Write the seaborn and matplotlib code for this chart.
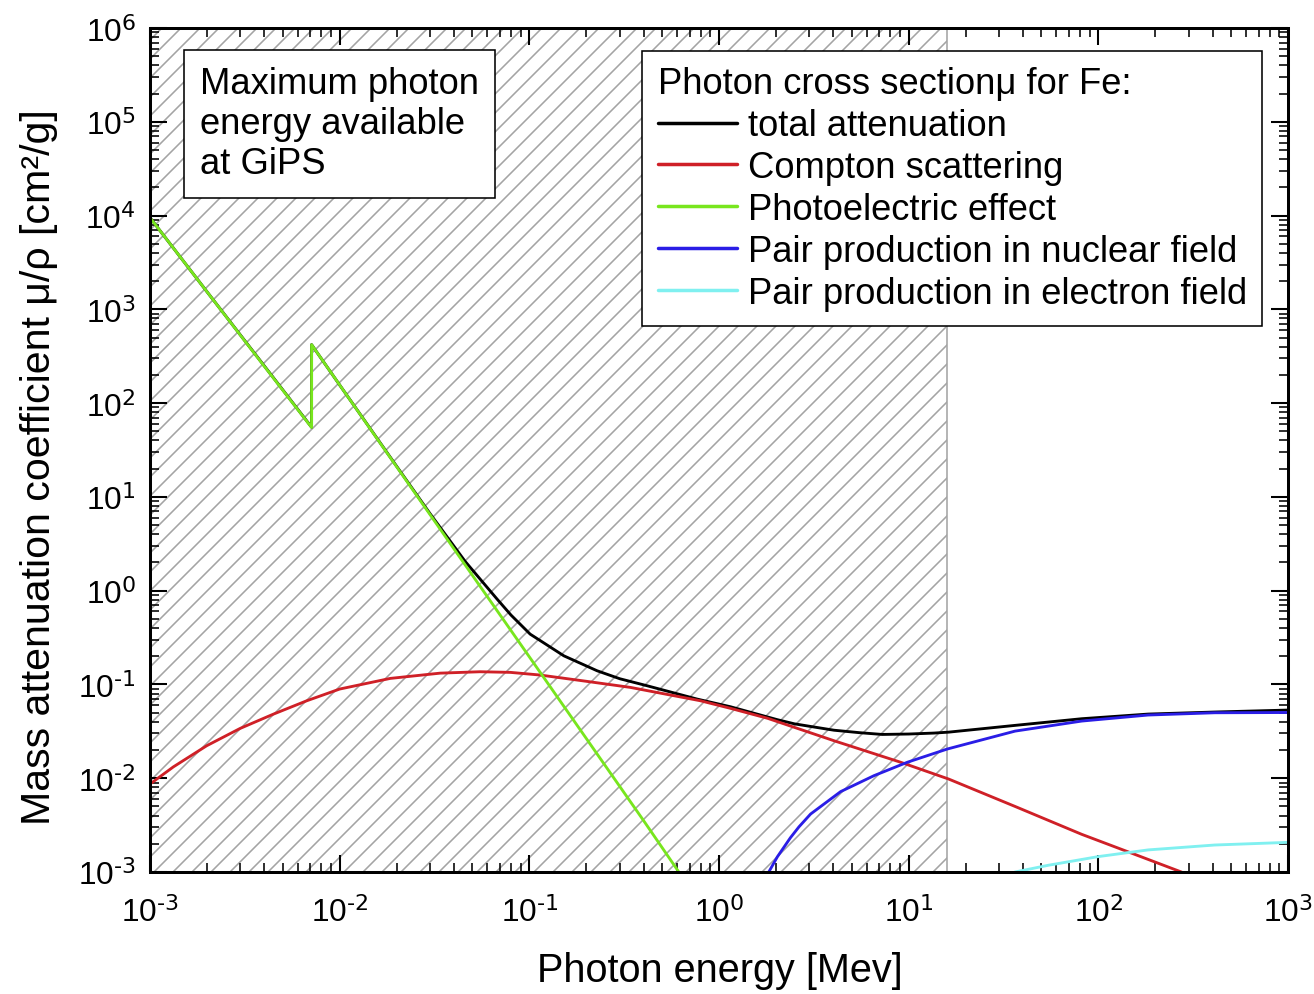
import numpy as np
import pandas as pd
import matplotlib
matplotlib.use("Agg")
import matplotlib.pyplot as plt
from matplotlib.ticker import LogLocator, NullFormatter, FuncFormatter, FixedLocator
import seaborn as sns

# ---------------- data ----------------
series_names = [
    "total attenuation",
    "Compton scattering",
    "Photoelectric effect",
    "Pair production in nuclear field",
    "Pair production in electron field",
]
series_colors = ["#000000", "#cf2027", "#78e61e", "#2a1de6", "#80f0f0"]

total_E = [0.001, 0.002, 0.004, 0.007112, 0.007112, 0.01, 0.02, 0.03, 0.0459, 0.0676,
           0.08, 0.101, 0.12, 0.152, 0.2275, 0.3, 0.418, 0.767, 1.15, 2.03, 2.5, 4.04,
           5.5, 7.24, 10.0, 13.6, 16.25, 36.4, 81.8, 183.0, 411.0, 1000.0]
total_mu = [9500, 1535, 250, 55.3, 420, 156, 21.1, 6.6, 2.05, 0.813,
            0.55, 0.344, 0.275, 0.202, 0.140, 0.115, 0.0968, 0.0698, 0.0578, 0.0421, 0.038,
            0.0325, 0.0306, 0.0293, 0.0296, 0.0303, 0.0310, 0.0366, 0.0431, 0.0483, 0.0508,
            0.0533]

compton_E = [0.001, 0.001327, 0.00199, 0.00299, 0.00448, 0.00671, 0.01, 0.0185, 0.0339,
             0.055, 0.0794, 0.114, 0.2, 0.341, 0.798, 1.15, 1.80, 4.04, 9.07, 16.25, 36.4,
             81.8, 143.6, 274.0, 400.0]
compton_mu = [0.00867, 0.0132, 0.0222, 0.034, 0.0483, 0.067, 0.0893, 0.116, 0.132,
              0.1366, 0.1345, 0.126, 0.108, 0.093, 0.067, 0.0556, 0.0436, 0.0251, 0.0148,
              0.0098, 0.0050, 0.00252, 0.00164, 0.0010, 0.00068]

photo_E = [0.001, 0.002, 0.004, 0.007112, 0.007112, 0.01, 0.02, 0.04, 0.1, 0.2, 0.4,
           0.614, 1.0]
photo_mu = [9500, 1534, 248, 55.0, 420, 156, 20.9, 2.80, 0.197, 0.0264, 0.00354,
            0.00100, 0.000245]

pairn_E = [1.75, 1.83, 2.03, 2.38, 2.64, 3.04, 4.38, 6.56, 9.84, 16.0, 36.4, 81.8,
           183.0, 411.0, 1000.0]
pairn_mu = [0.0007, 0.0010, 0.00145, 0.00232, 0.00303, 0.00415, 0.0072, 0.01064, 0.0148,
            0.0205, 0.0318, 0.0407, 0.0472, 0.0499, 0.0502]

paire_E = [30.0, 36.4, 54.5, 100.0, 183.0, 411.0, 1000.0]
paire_mu = [0.0008, 0.0010, 0.00118, 0.00146, 0.00172, 0.00194, 0.00207]

hatch_limit = 16.0  # maximum photon energy available at GiPS [MeV]

x_ticks = [1e-3, 1e-2, 1e-1, 1e0, 1e1, 1e2, 1e3]
y_ticks = [1e-3, 1e-2, 1e-1, 1e0, 1e1, 1e2, 1e3, 1e4, 1e5, 1e6]

# ---------------- build long table ----------------
frames = []
for name, E, mu in zip(series_names,
                       [total_E, compton_E, photo_E, pairn_E, paire_E],
                       [total_mu, compton_mu, photo_mu, pairn_mu, paire_mu]):
    frames.append(pd.DataFrame({"energy": E, "mu": mu, "process": name}))
df = pd.concat(frames, ignore_index=True)

# ---------------- style ----------------
sns.set_style("ticks")
plt.rcParams["font.family"] = ["Liberation Sans", "DejaVu Sans"]
plt.rcParams["mathtext.default"] = "regular"
plt.rcParams["axes.unicode_minus"] = False
plt.rcParams["hatch.linewidth"] = 1.0
for key in ["text.color", "axes.labelcolor", "xtick.color", "ytick.color", "axes.edgecolor"]:
    plt.rcParams[key] = "black"

DPI = 114
fig = plt.figure(figsize=(1314 / DPI, 995 / DPI), dpi=DPI)
L, R, B, T = 150 / 1314, 1288 / 1314, 1 - 873 / 995, 1 - 29 / 995
ax = fig.add_axes([L, B, R - L, T - B])
ax.set_xscale("log")
ax.set_yscale("log")

# hatched region
ax.axvspan(1e-3, hatch_limit, facecolor="white", edgecolor="#a4a4a4",
           hatch="//", linewidth=1.0, zorder=0.5)

sns.lineplot(data=df, x="energy", y="mu", hue="process", hue_order=series_names,
             palette=dict(zip(series_names, series_colors)), estimator=None,
             sort=False, linewidth=1.8, ax=ax, zorder=2)

ax.set_xlim(x_ticks[0], x_ticks[-1])
ax.set_ylim(y_ticks[0], y_ticks[-1])


def pow10_label(v, pos):
    e = int(round(np.log10(v)))
    return r"$\mathdefault{10^{\text{%d}}}$" % e


# ticks
ax.xaxis.set_major_locator(FixedLocator(x_ticks))
ax.yaxis.set_major_locator(FixedLocator(y_ticks))
ax.xaxis.set_minor_locator(LogLocator(base=10, subs=np.arange(2, 10), numticks=200))
ax.yaxis.set_minor_locator(LogLocator(base=10, subs=np.arange(2, 10), numticks=200))
ax.xaxis.set_major_formatter(FuncFormatter(pow10_label))
ax.yaxis.set_major_formatter(FuncFormatter(pow10_label))
ax.xaxis.set_minor_formatter(NullFormatter())
ax.yaxis.set_minor_formatter(NullFormatter())
ax.tick_params(which="both", direction="in", top=True, right=True, colors="black")
ax.tick_params(which="major", length=10.5, width=1.3, labelsize=20)
ax.tick_params(axis="x", which="major", pad=15)
ax.tick_params(axis="y", which="major", pad=9)
ax.tick_params(which="minor", length=5.5, width=1.0)
for s in ax.spines.values():
    s.set_linewidth(1.9)
    s.set_color("black")
    s.set_zorder(4)

ax.set_xlabel("Photon energy [Mev]", fontsize=25)
ax.set_ylabel("Mass attenuation coefficient \u03bc/\u03c1 [cm\u00b2/g]", fontsize=26)
ax.xaxis.set_label_coords(0.501, -0.094)
ax.yaxis.set_label_coords(-0.081, 0.481)

# legend
old = ax.get_legend()
handles = list(old.legend_handles)
labels = [t.get_text() for t in old.texts]
old.remove()
leg = ax.legend(handles, labels, title="Photon cross section\u03bc for Fe:",
                loc="upper left", bbox_to_anchor=(0.4327, 0.9727), alignment="left",
                fontsize=23, title_fontsize=23, frameon=True, fancybox=False,
                framealpha=1, edgecolor="black", facecolor="white", borderpad=0.42,
                labelspacing=0.19, handlelength=2.17, handletextpad=0.3,
                borderaxespad=0)
leg.get_frame().set_linewidth(1.0)
for ln in leg.get_lines():
    ln.set_linewidth(2.2)
leg.set_zorder(6)

# annotation box
ax.text(0.044, 0.955, "Maximum photon\nenergy available\nat GiPS", transform=ax.transAxes,
        ha="left", va="top", fontsize=23, linespacing=1.19, zorder=6,
        bbox=dict(boxstyle="square,pad=0.45", facecolor="white", edgecolor="black", linewidth=1.0))

fig.savefig("out.png", dpi=DPI)
